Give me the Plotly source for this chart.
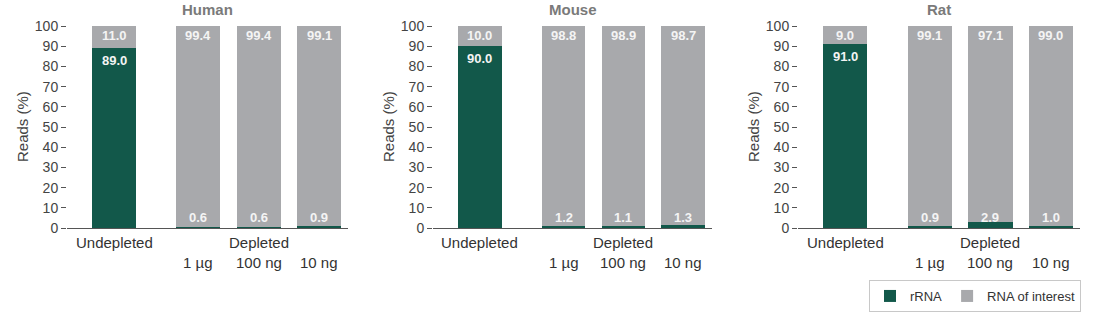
import plotly.graph_objects as go

species = ["Human", "Mouse", "Rat"]
categories = ["Undepleted", "1 µg", "100 ng", "10 ng"]
rrna = {
    "Human": [89.0, 0.6, 0.6, 0.9],
    "Mouse": [90.0, 1.2, 1.1, 1.3],
    "Rat": [91.0, 0.9, 2.9, 1.0],
}
interest = {
    "Human": [11.0, 99.4, 99.4, 99.1],
    "Mouse": [10.0, 98.8, 98.9, 98.7],
    "Rat": [9.0, 99.1, 97.1, 99.0],
}
y_ticks = list(range(0, 101, 10))

xpos = [0, 1.4, 2.4, 3.4]
GREEN = "#12584a"
GREY = "#a8a9ac"
FONT = "Liberation Sans, Arial, sans-serif"

W, H = 1110, 313
domains_px = [(67, 348), (433, 712), (798, 1080)]
ybot, ytop = 1 - 228 / H, 1 - 26 / H

fig = go.Figure()
annotations = []
for i, sp in enumerate(species):
    ax = "" if i == 0 else str(i + 1)
    xa, ya = "x" + ax, "y" + ax
    fig.add_trace(go.Bar(x=xpos, y=rrna[sp], marker=dict(color=GREEN, line=dict(width=0)),
                         width=0.73, name="rRNA", showlegend=(i == 0),
                         xaxis=xa, yaxis=ya, hoverinfo="skip"))
    fig.add_trace(go.Bar(x=xpos, y=interest[sp], marker=dict(color=GREY, line=dict(width=0)),
                         width=0.73, name="RNA of interest", showlegend=(i == 0),
                         xaxis=xa, yaxis=ya, hoverinfo="skip"))
    d0, d1 = domains_px[i]
    fig.layout["xaxis" + ax] = dict(
        domain=[d0 / W, d1 / W], range=[-0.78, 3.88], showticklabels=False,
        ticks="", showline=True, linecolor="#555", linewidth=1.2, showgrid=False,
        zeroline=False, anchor=ya, fixedrange=True, automargin=False)
    fig.layout["yaxis" + ax] = dict(
        domain=[ybot, ytop], range=[0, 100], tickvals=y_ticks, ticks="outside",
        ticklen=5, tickcolor="#555", tickwidth=1, showline=False, showgrid=False,
        zeroline=False, anchor=xa, tickfont=dict(size=14, color="#444", family=FONT),
        fixedrange=True, automargin=False)
    # title
    annotations.append(dict(text=f"<b>{sp}</b>", x=0.5, y=1 - 10 / H, xref=f"{xa} domain",
                            yref="paper", yanchor="middle", showarrow=False,
                            font=dict(size=15, color="#7a7a7a", family=FONT)))
    # y title
    annotations.append(dict(text="Reads (%)", x=0, y=0.5, xref=f"{xa} domain",
                            yref=f"{ya} domain", xshift=-45, xanchor="center", yanchor="middle",
                            textangle=-90, showarrow=False,
                            font=dict(size=15, color="#444", family=FONT)))
    # category labels
    annotations.append(dict(text="Undepleted", x=xpos[0], y=1 - 242 / H, xref=xa, yref="paper",
                            yanchor="middle", showarrow=False,
                            font=dict(size=15, color="#333", family=FONT)))
    annotations.append(dict(text="Depleted", x=xpos[2], y=1 - 242 / H, xref=xa, yref="paper",
                            yanchor="middle", showarrow=False,
                            font=dict(size=15, color="#333", family=FONT)))
    for j in range(1, 4):
        annotations.append(dict(text=categories[j], x=xpos[j], y=1 - 262 / H, xref=xa,
                                yref="paper", yanchor="middle", showarrow=False,
                                font=dict(size=15, color="#333", family=FONT)))
    # value labels
    for j in range(4):
        annotations.append(dict(text=f"<b>{interest[sp][j]:.1f}</b>", x=xpos[j], y=95.5,
                                xref=xa, yref=ya, yanchor="middle", showarrow=False,
                                font=dict(size=13, color="#f4f4f4", family=FONT)))
        if j == 0:
            ry = rrna[sp][j] - 6
        else:
            ry = 5
        annotations.append(dict(text=f"<b>{rrna[sp][j]:.1f}</b>", x=xpos[j], y=ry,
                                xref=xa, yref=ya, yanchor="middle", showarrow=False,
                                font=dict(size=13, color="#f4f4f4", family=FONT)))

fig.update_layout(
    width=W, height=H, margin=dict(l=0, r=0, t=0, b=0, autoexpand=False),
    barmode="stack", bargap=0, plot_bgcolor="white", paper_bgcolor="white",
    annotations=annotations,
    legend=dict(orientation="h", x=869 / W, y=1 - 280 / H, xanchor="left", yanchor="top",
                bordercolor="#c8c8c8", borderwidth=1, bgcolor="white", traceorder="normal",
                font=dict(size=13, color="#333", family=FONT), itemwidth=30),
    font=dict(family=FONT),
)
fig.write_html("out.html")
